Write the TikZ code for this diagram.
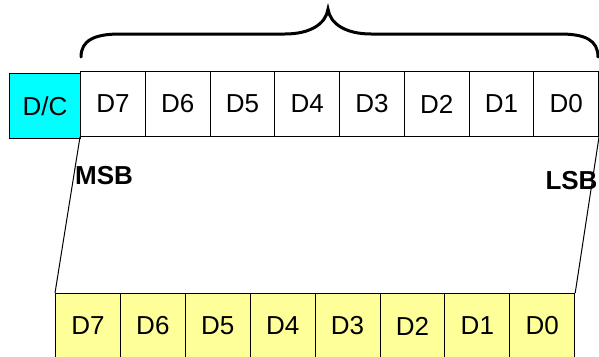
\documentclass[tikz,border=0pt]{standalone}
\usepackage{fontspec}
\setmainfont{Liberation Sans}
\definecolor{dccyan}{RGB}{0,255,255}
\definecolor{cellyellow}{RGB}{255,255,153}
\tikzset{
  cell/.style={draw=black, line width=1pt, rectangle, inner sep=0pt, anchor=north west,
    minimum width=64.75pt, minimum height=65pt, font=\fontsize{26}{28}\selectfont},
  topcell/.style={cell, fill=white},
  botcell/.style={cell, fill=cellyellow, minimum width=64.9pt},
  dccell/.style={cell, fill=dccyan, minimum width=71pt},
  bitlabel/.style={inner sep=0pt, font=\fontsize{26}{28}\selectfont\bfseries},
  link/.style={draw=black, line width=1pt},
  bracestyle/.style={draw=black, line width=3pt, line cap=round}
}
\begin{document}
\begin{tikzpicture}[x=1pt, y=-1pt]
\useasboundingbox (0,0) rectangle (599,356);
\clip (0,0) rectangle (599,356);
% D/C box
\node[dccell] (dc) at (9,73) {D/C};
% top row
\foreach \i/\lab in {0/7,1/6,2/5,3/4,4/3,5/2,6/1,7/0} {
  \node[topcell] (t\lab) at ({80+64.75*\i},71) {D\lab};
}
% bottom row
\foreach \i/\lab in {0/7,1/6,2/5,3/4,4/3,5/2,6/1,7/0} {
  \node[botcell] (b\lab) at ({55+64.9*\i},293) {D\lab};
}
% connectors
\draw[link] (t7.south west) -- (b7.north west);
\draw[link] (t0.south east) -- (b0.north east);
% labels
\node[bitlabel] (msb) at (104,176) {MSB};
\node[bitlabel] (lsb) at (571.5,180.5) {LSB};
% brace
\coordinate (bl) at (81,57);
\coordinate (br) at (598,57);
\coordinate (tip) at (328,9);
\draw[bracestyle] (bl) .. controls (81,40) and (95,34) .. (120,34)
  -- (285,34) .. controls (310,34) and (326,24) .. (tip)
  .. controls (330,24) and (346,34) .. (371,34)
  -- (560,34) .. controls (585,34) and (598,40) .. (br);
\end{tikzpicture}
\end{document}
